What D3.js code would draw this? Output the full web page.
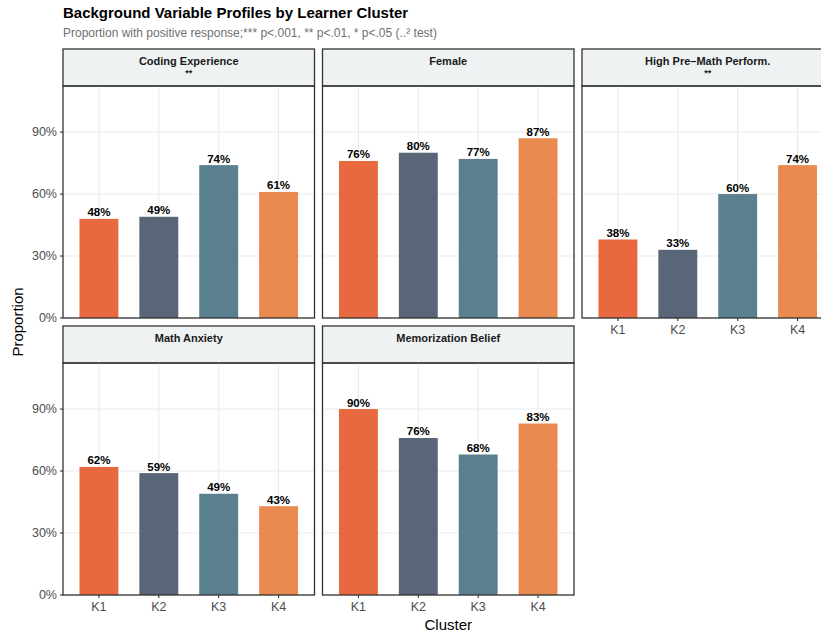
<!DOCTYPE html>
<html>
<head>
<meta charset="utf-8">
<script src="https://cdn.jsdelivr.net/npm/d3@7"></script>
<style>
  body { margin: 0; background: #fff; }
  svg { display: block; font-family: "Liberation Sans", Arial, sans-serif; }
</style>
</head>
<body>
<svg id="chart" width="821" height="634"></svg>
<script>
// Clusters and their fill colours
const clusters = ["K1", "K2", "K3", "K4"];
const clusterColors = ["#e8693f", "#586677", "#5a7f8f", "#e98a50"];

// One facet per background variable; significance stars on a second strip line
const variables = ["Coding Experience", "Female", "High Pre\u2013Math Perform.", "Math Anxiety", "Memorization Belief"];
const significance = ["**", "", "**", "", ""];

// Proportion with positive response, per variable and cluster
const codingExperience = [0.48, 0.49, 0.74, 0.61];
const female = [0.76, 0.80, 0.77, 0.87];
const highPreMath = [0.38, 0.33, 0.60, 0.74];
const mathAnxiety = [0.62, 0.59, 0.49, 0.43];
const memorizationBelief = [0.90, 0.76, 0.68, 0.83];
const seriesValues = [codingExperience, female, highPreMath, mathAnxiety, memorizationBelief];

const yTicks = [0, 0.3, 0.6, 0.9];

const svg = d3.select("#chart");

// Facet geometry
const panelW = 251.5, panelH = 232, stripH = 37;
const colX = [63, 322.5, 582];
const rowTop = [49, 326];
const nCols = 3;

// Discrete x: positions 1..4 with 0.6 units of expansion on each side
const x = d3.scaleLinear().domain([0.4, clusters.length + 0.6]).range([0, panelW]);
const xCenter = c => x(clusters.indexOf(c) + 1);
const barW = x(1.65) - x(1);

const y = d3.scaleLinear().domain([0, 1.123]).range([panelH, 0]);
const color = d3.scaleOrdinal().domain(clusters).range(clusterColors);

// Title and subtitle
svg.append("text").attr("x", 63).attr("y", 18)
  .attr("font-size", 15).attr("font-weight", "bold").attr("fill", "#000")
  .text("Background Variable Profiles by Learner Cluster");
svg.append("text").attr("x", 63).attr("y", 37)
  .attr("font-size", 12).attr("fill", "#707070")
  .text("Proportion with positive response;*** p<.001, ** p<.01, * p<.05 (..\u00b2 test)");

variables.forEach((name, i) => {
  const col = i % nCols, row = Math.floor(i / nCols);
  const g = svg.append("g").attr("transform", `translate(${colX[col]},${rowTop[row]})`);

  // Strip
  g.append("rect").attr("x", 0).attr("y", 0).attr("width", panelW).attr("height", stripH)
    .attr("fill", "#eef2f3").attr("stroke", "#333").attr("stroke-width", 1.3);
  g.append("text").attr("x", panelW / 2).attr("y", 16)
    .attr("text-anchor", "middle").attr("font-size", 11).attr("font-weight", "bold").attr("fill", "#1a1a1a")
    .text(name);
  if (significance[i]) {
    g.append("text").attr("x", panelW / 2).attr("y", 27)
      .attr("text-anchor", "middle").attr("font-size", 9).attr("font-weight", "bold").attr("fill", "#1a1a1a")
      .text(significance[i]);
  }

  const p = g.append("g").attr("transform", `translate(0,${stripH})`);

  // Grid
  p.selectAll(".gy").data(yTicks).join("line")
    .attr("x1", 0).attr("x2", panelW).attr("y1", d => y(d)).attr("y2", d => y(d))
    .attr("stroke", "#ebebeb").attr("stroke-width", 1.1);
  p.selectAll(".gx").data(clusters).join("line")
    .attr("x1", d => xCenter(d)).attr("x2", d => xCenter(d)).attr("y1", 0).attr("y2", panelH)
    .attr("stroke", "#ebebeb").attr("stroke-width", 1.1);

  // Bars
  const vals = seriesValues[i];
  p.selectAll(".bar").data(clusters).join("rect")
    .attr("x", d => xCenter(d) - barW / 2)
    .attr("width", barW)
    .attr("y", (d, j) => y(vals[j]))
    .attr("height", (d, j) => panelH - y(vals[j]))
    .attr("fill", d => color(d));

  // Value labels
  p.selectAll(".lbl").data(clusters).join("text")
    .attr("x", d => xCenter(d))
    .attr("y", (d, j) => y(vals[j]) - 2.5)
    .attr("text-anchor", "middle").attr("font-size", 11.5).attr("font-weight", "bold").attr("fill", "#000")
    .text((d, j) => d3.format(".0%")(vals[j]));

  // Panel border
  p.append("rect").attr("x", 0).attr("y", 0).attr("width", panelW).attr("height", panelH)
    .attr("fill", "none").attr("stroke", "#333").attr("stroke-width", 1.3);

  // Y axis on the first column
  if (col === 0) {
    yTicks.forEach(t => {
      p.append("line").attr("x1", -3).attr("x2", 0).attr("y1", y(t)).attr("y2", y(t))
        .attr("stroke", "#333").attr("stroke-width", 1.1);
      p.append("text").attr("x", -6).attr("y", y(t)).attr("dy", "0.35em")
        .attr("text-anchor", "end").attr("font-size", 12.5).attr("fill", "#4d4d4d")
        .text(d3.format(".0%")(t));
    });
  }

  // X axis on panels with nothing below them
  const below = i + nCols;
  if (below >= variables.length) {
    clusters.forEach(c => {
      p.append("line").attr("x1", xCenter(c)).attr("x2", xCenter(c)).attr("y1", panelH).attr("y2", panelH + 3)
        .attr("stroke", "#333").attr("stroke-width", 1.1);
      p.append("text").attr("x", xCenter(c)).attr("y", panelH + 16)
        .attr("text-anchor", "middle").attr("font-size", 12.5).attr("fill", "#4d4d4d")
        .text(c);
    });
  }
});

// Axis titles
svg.append("text").attr("x", (63 + 582 + panelW) / 2).attr("y", 630)
  .attr("text-anchor", "middle").attr("font-size", 15).attr("fill", "#000").text("Cluster");
svg.append("text").attr("transform", `translate(23,${(49 + 595) / 2}) rotate(-90)`)
  .attr("text-anchor", "middle").attr("font-size", 15).attr("fill", "#000").text("Proportion");
</script>
</body>
</html>
